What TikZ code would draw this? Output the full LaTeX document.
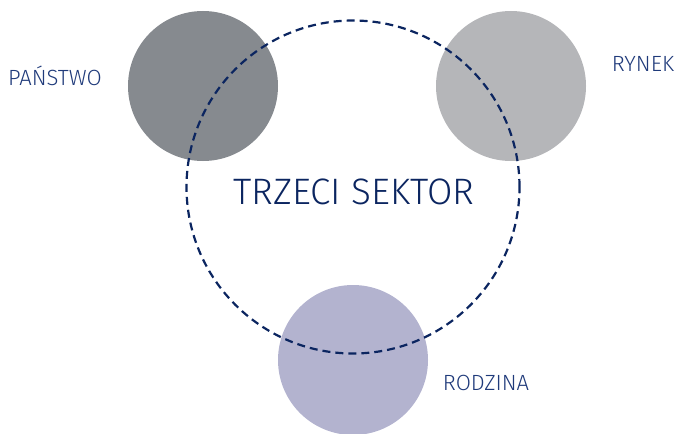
\documentclass[tikz,border=0pt]{standalone}
\usepackage{fontspec}
\setmainfont{Fira Sans Light}
\usepackage{tikz}
\usetikzlibrary{positioning}
\definecolor{granat}{HTML}{0B2560}
\definecolor{napis}{HTML}{1F3A7A}
\definecolor{ciemnyszary}{HTML}{868A8F}
\definecolor{jasnyszary}{HTML}{B5B6B9}
\definecolor{lawenda}{HTML}{B3B3CF}
\tikzset{
    kolo/.style={circle, minimum size=150pt, inner sep=0pt},
    sektor/.style={circle, draw=granat, dash pattern=on 8pt off 5pt, line width=2.2pt, minimum size=333pt, inner sep=0pt},
    etykieta/.style={text=napis, font=\fontsize{22}{26}\selectfont, inner sep=0pt}
}
\begin{document}
\begin{tikzpicture}[x=1pt, y=-1pt]
        \useasboundingbox (0,0) rectangle (676,433);

        % Kola
        \node (panstwo) [kolo, fill=ciemnyszary] at (203,86) {};
        \node (rynek) [kolo, fill=jasnyszary] at (511,86) {};
        \node (rodzina) [kolo, fill=lawenda] at (353,360) {};

        % Trzeci sektor
        \node (trzeci) [sektor] at (353,187) {};
        \node [text=granat, font=\fontsize{36.8}{42}\selectfont, inner sep=0pt] at (354,192) {TRZECI SEKTOR};

        % Podpisy
        \node [etykieta] at (55,76) {PAŃSTWO};
        \node [etykieta] at (643,64) {RYNEK};
        \node [etykieta] at (486,383) {RODZINA};

    \end{tikzpicture}
\end{document}
